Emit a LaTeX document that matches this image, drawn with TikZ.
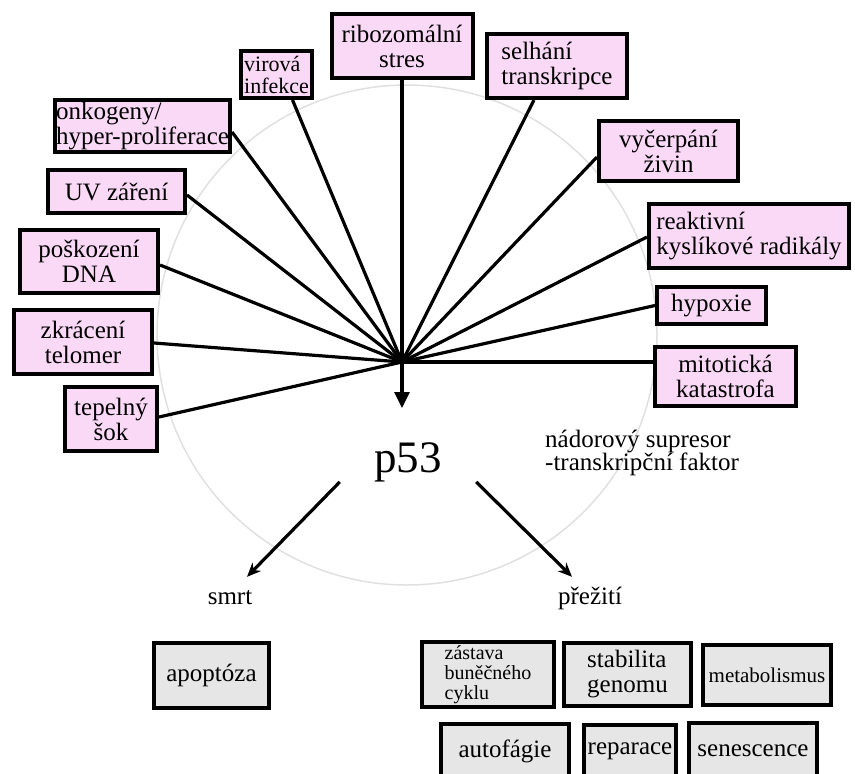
\documentclass[tikz,border=0pt]{standalone}
\usepackage{fontspec}
\setmainfont{Liberation Serif}
\usetikzlibrary{arrows.meta}
\definecolor{CausePink}{HTML}{FAD9F6}
\definecolor{FateGray} {HTML}{E6E6E6}
\definecolor{RingGray} {HTML}{E0E0E0}
\newcommand{\fsz}[1]{\fontsize{#1}{#1}\selectfont}
\tikzset{
  every node/.style={font=\fsz{25}},
  % framed boxes
  box/.style  ={draw, line width=4pt, inner sep=1pt, align=center},
  cause/.style={box, fill=CausePink},
  fate/.style ={box, fill=FateGray},
  spoke/.style={line width=3.2pt},
  lbl/.style  ={inner sep=0pt, align=left},
}
\begin{document}
\begin{tikzpicture}[x=1pt, y=-1pt]
\useasboundingbox (0,0) rectangle (855,774);
\clip (0,0) rectangle (855,774);
\draw[RingGray, line width=1.5pt] (407,335) circle[radius=250pt];
% stress signals
\node[cause, minimum width=141pt, minimum height=64pt] (ribo) at (402,46) {ribozomální\\stres};
\node[cause, align=left, font=\fsz{22}, minimum width=71pt, minimum height=47pt] (virus) at (276.5,74.5) {virová\\infekce};
\node[cause, align=left, minimum width=175pt, minimum height=52pt] (onko) at (142.5,126) {onkogeny/\\hyper-proliferace};
\node[cause, minimum width=137pt, minimum height=43pt] (uv) at (116.5,191.5) {UV záření};
\node[cause, minimum width=138pt, minimum height=63pt] (dna) at (89,261.5) {poškození\\DNA};
\node[cause, minimum width=138pt, minimum height=64pt] (telo) at (83,342) {zkrácení\\telomer};
\node[cause, minimum width=92pt, minimum height=64pt] (heat) at (111,419) {tepelný\\šok};
\node[cause, align=left, minimum width=140pt, minimum height=64pt] (trans) at (557,66) {selhání\\transkripce};
\node[cause, minimum width=139pt, minimum height=60pt] (nutr) at (668.5,151) {vyčerpání\\živin};
\node[cause, align=left, minimum width=200pt, minimum height=64pt] (ros) at (749,236) {reaktivní\\kyslíkové radikály};
\node[cause, minimum width=109pt, minimum height=37pt] (hypo) at (711.5,305.5) {hypoxie};
\node[cause, minimum width=141pt, minimum height=59pt] (mito) at (725.5,376.5) {mitotická\\katastrofa};
\coordinate (hub) at (402,362);
\coordinate (tip) at (402,408);
\draw[spoke, -{Triangle[length=16pt,width=15pt]}] (ribo.south) -- (tip);
\draw[spoke] ([xshift=16pt]virus.south) -- (hub);
\draw[spoke] ([yshift=-6pt]onko.east) -- (hub);
\draw[spoke] ([yshift=-3.5pt]uv.east) -- (hub);
\draw[spoke] ([yshift=-3.5pt]dna.east) -- (hub);
\draw[spoke] ([yshift=-1pt]telo.east) -- (hub);
\draw[spoke] ([yshift=2pt]heat.east) -- (hub);
\draw[spoke] ([xshift=-23pt]trans.south) -- (hub);
\draw[spoke] ([yshift=-6pt]nutr.west) -- (hub);
\draw[spoke] ([yshift=-1pt]ros.west) -- (hub);
\draw[spoke] (hypo.west) -- (hub);
\draw[spoke] ([yshift=14.5pt]mito.west) -- (hub);
% p53 and its outcomes
\node[minimum width=136pt, minimum height=36pt, inner sep=0pt, font=\fsz{45}] (p53) at (408,462) {p53};
\node[lbl, anchor=west, font=\fontsize{25}{23}\selectfont] (tsup) at (545,453) {nádorový supresor\\-transkripční faktor};
\node[minimum height=42pt, inner sep=0pt] (death) at (230,598) {smrt};
\node[minimum height=42pt, inner sep=0pt] (surv) at (590,598) {přežití};
\draw[spoke, -{Stealth[length=14pt,width=12pt]}] (p53.south west) -- ([xshift=17pt]death.north);
\draw[spoke, -{Stealth[length=14pt,width=12pt]}] (p53.south east) -- ([xshift=-18pt]surv.north);
\node[fate, minimum width=115pt, minimum height=65pt] (apop) at (211.5,675.5) {apoptóza};
\node[fate, align=left, font=\fsz{20}, minimum width=132pt, minimum height=65pt] (cycle) at (488,674.5) {zástava\\buněčného\\cyklu};
\node[fate, align=left, minimum width=127pt, minimum height=63pt] (genome) at (627.5,674.5) {stabilita\\genomu};
\node[fate, font=\fsz{21}, minimum width=128pt, minimum height=60pt] (metab) at (767,675) {metabolismus};
\node[fate, minimum width=128pt, minimum height=55pt] (auto) at (505,751) {autofágie};
\node[fate, minimum width=92pt, minimum height=54pt] (repar) at (630,751.5) {reparace};
\node[fate, minimum width=128pt, minimum height=56pt] (senes) at (753,750.5) {senescence};
\end{tikzpicture}
\end{document}
